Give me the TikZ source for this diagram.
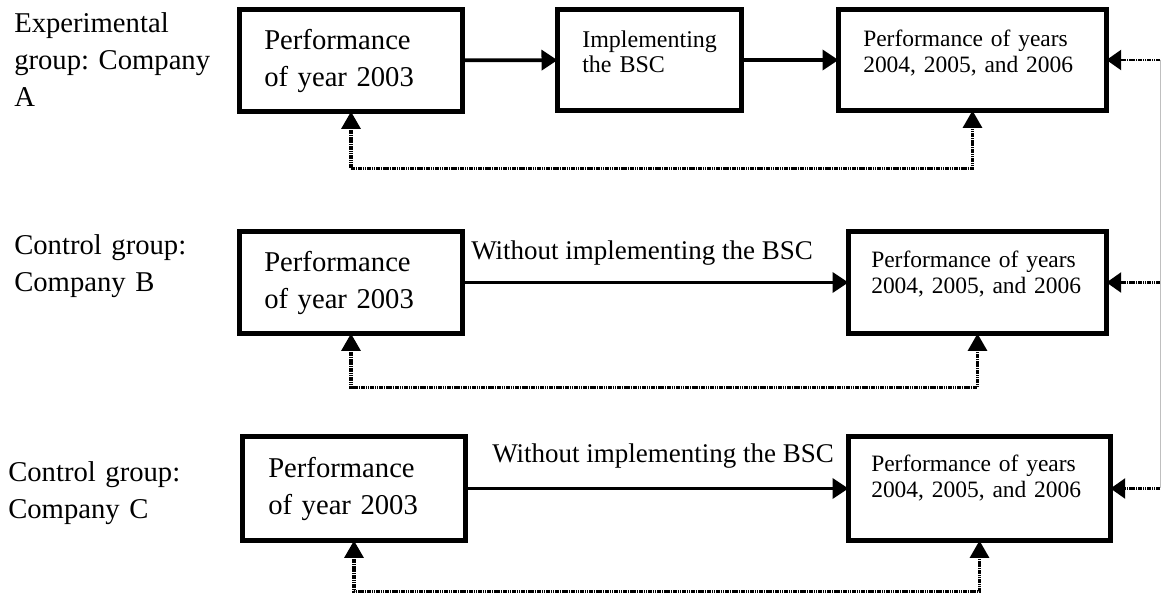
\documentclass[tikz,border=0pt]{standalone}
\usepackage{fontspec}
\setmainfont{Liberation Serif}
\usetikzlibrary{arrows.meta}
\begin{document}
\frenchspacing
\begin{tikzpicture}[x=0.75pt,y=-0.75pt,
  box/.style={draw, line width=3.4pt, inner sep=0pt, outer sep=0pt},
  lbl/.style={anchor=base west, inner sep=0pt, text width=200pt, align=left, font=\fontsize{21.5}{27.5}\selectfont},
  perf/.style={anchor=base west, inner sep=0pt, text width=160pt, align=left, font=\fontsize{21.5}{27.75}\selectfont},
  impl/.style={anchor=base west, inner sep=0pt, text width=130pt, align=left, font=\fontsize{18}{18.75}\selectfont},
  small/.style={anchor=base west, inner sep=0pt, text width=200pt, align=left, font=\fontsize{17.6}{19.5}\selectfont},
  wo/.style={anchor=base west, inner sep=0pt, font=\fontsize{20.25}{24}\selectfont},
  arr/.style={line width=2.8pt, -{Triangle[length=12pt,width=15pt]}},
  fb/.style={line width=2.8pt, dash pattern=on 1.2pt off 0.5pt, {Triangle[length=13pt,width=14pt]}-{Triangle[length=13pt,width=14pt]}},
  side/.style={line width=1.8pt, dash pattern=on 1.2pt off 0.5pt, -{Triangle[length=11pt,width=15pt]}},
]
\useasboundingbox (0,0) rectangle (1161,598);

% Row A
\node[lbl] (LA) at (14,33) {Experimental\\group: Company\\A};
\node[box, minimum width=167.25pt, minimum height=76.5pt] (A1) at (351,60.5) {};
\node[box, minimum width=138pt, minimum height=75.75pt] (A2) at (649.5,60) {};
\node[box, minimum width=201pt, minimum height=75.75pt] (A3) at (972.5,60) {};
\node[perf] (tA1) at (264,50) {Performance\\of year 2003};
\node[impl] (tA2) at (582,48) {Implementing\\the BSC};
\node[small] (tA3) at (863,47) {Performance of years\\2004, 2005, and 2006};
\draw[arr] (A1) -- (A2);
\draw[arr] (A2) -- (A3);
\draw[fb] (A1.south) -- ++(0,57) -| (A3.south);

% Row B
\node[lbl] (LB) at (14,255) {Control group:\\Company B};
\node[box, minimum width=167.25pt, minimum height=76.5pt] (B1) at (351,282.5) {};
\node[box, minimum width=193.5pt, minimum height=76.5pt] (B3) at (977.5,282.5) {};
\node[perf] (tB1) at (264,272) {Performance\\of year 2003};
\node[small] (tB3) at (871,268) {Performance of years\\2004, 2005, and 2006};
\node[wo] (wB) at (471,260) {Without implementing the BSC};
\draw[arr] (B1) -- (B3);
\draw[fb] (B1.south) -- ++(0,54) -| (B3.south);

% Row C
\node[lbl] (LC) at (8,482) {Control group:\\Company C};
\node[box, minimum width=167.25pt, minimum height=78pt] (C1) at (354,488.5) {};
\node[box, minimum width=196.5pt, minimum height=78pt] (C3) at (979.5,488.5) {};
\node[perf] (tC1) at (268,478) {Performance\\of year 2003};
\node[small] (tC3) at (871,472) {Performance of years\\2004, 2005, and 2006};
\node[wo] (wC) at (492,463) {Without implementing the BSC};
\draw[arr] (C1) -- (C3);
\draw[fb] (C1.south) -- ++(0,51) -| (C3.south);

% Right side feedback
\coordinate (RA) at (1160,60);
\coordinate (RB) at (1160,282.5);
\coordinate (RC) at (1160,488.5);
\draw[black!25, line width=0.6pt] (RA) -- (RC);
\draw[side] (RA) -- (A3.east);
\draw[side] (RB) -- (B3.east);
\draw[side] (RC) -- (C3.east);
\end{tikzpicture}
\end{document}
